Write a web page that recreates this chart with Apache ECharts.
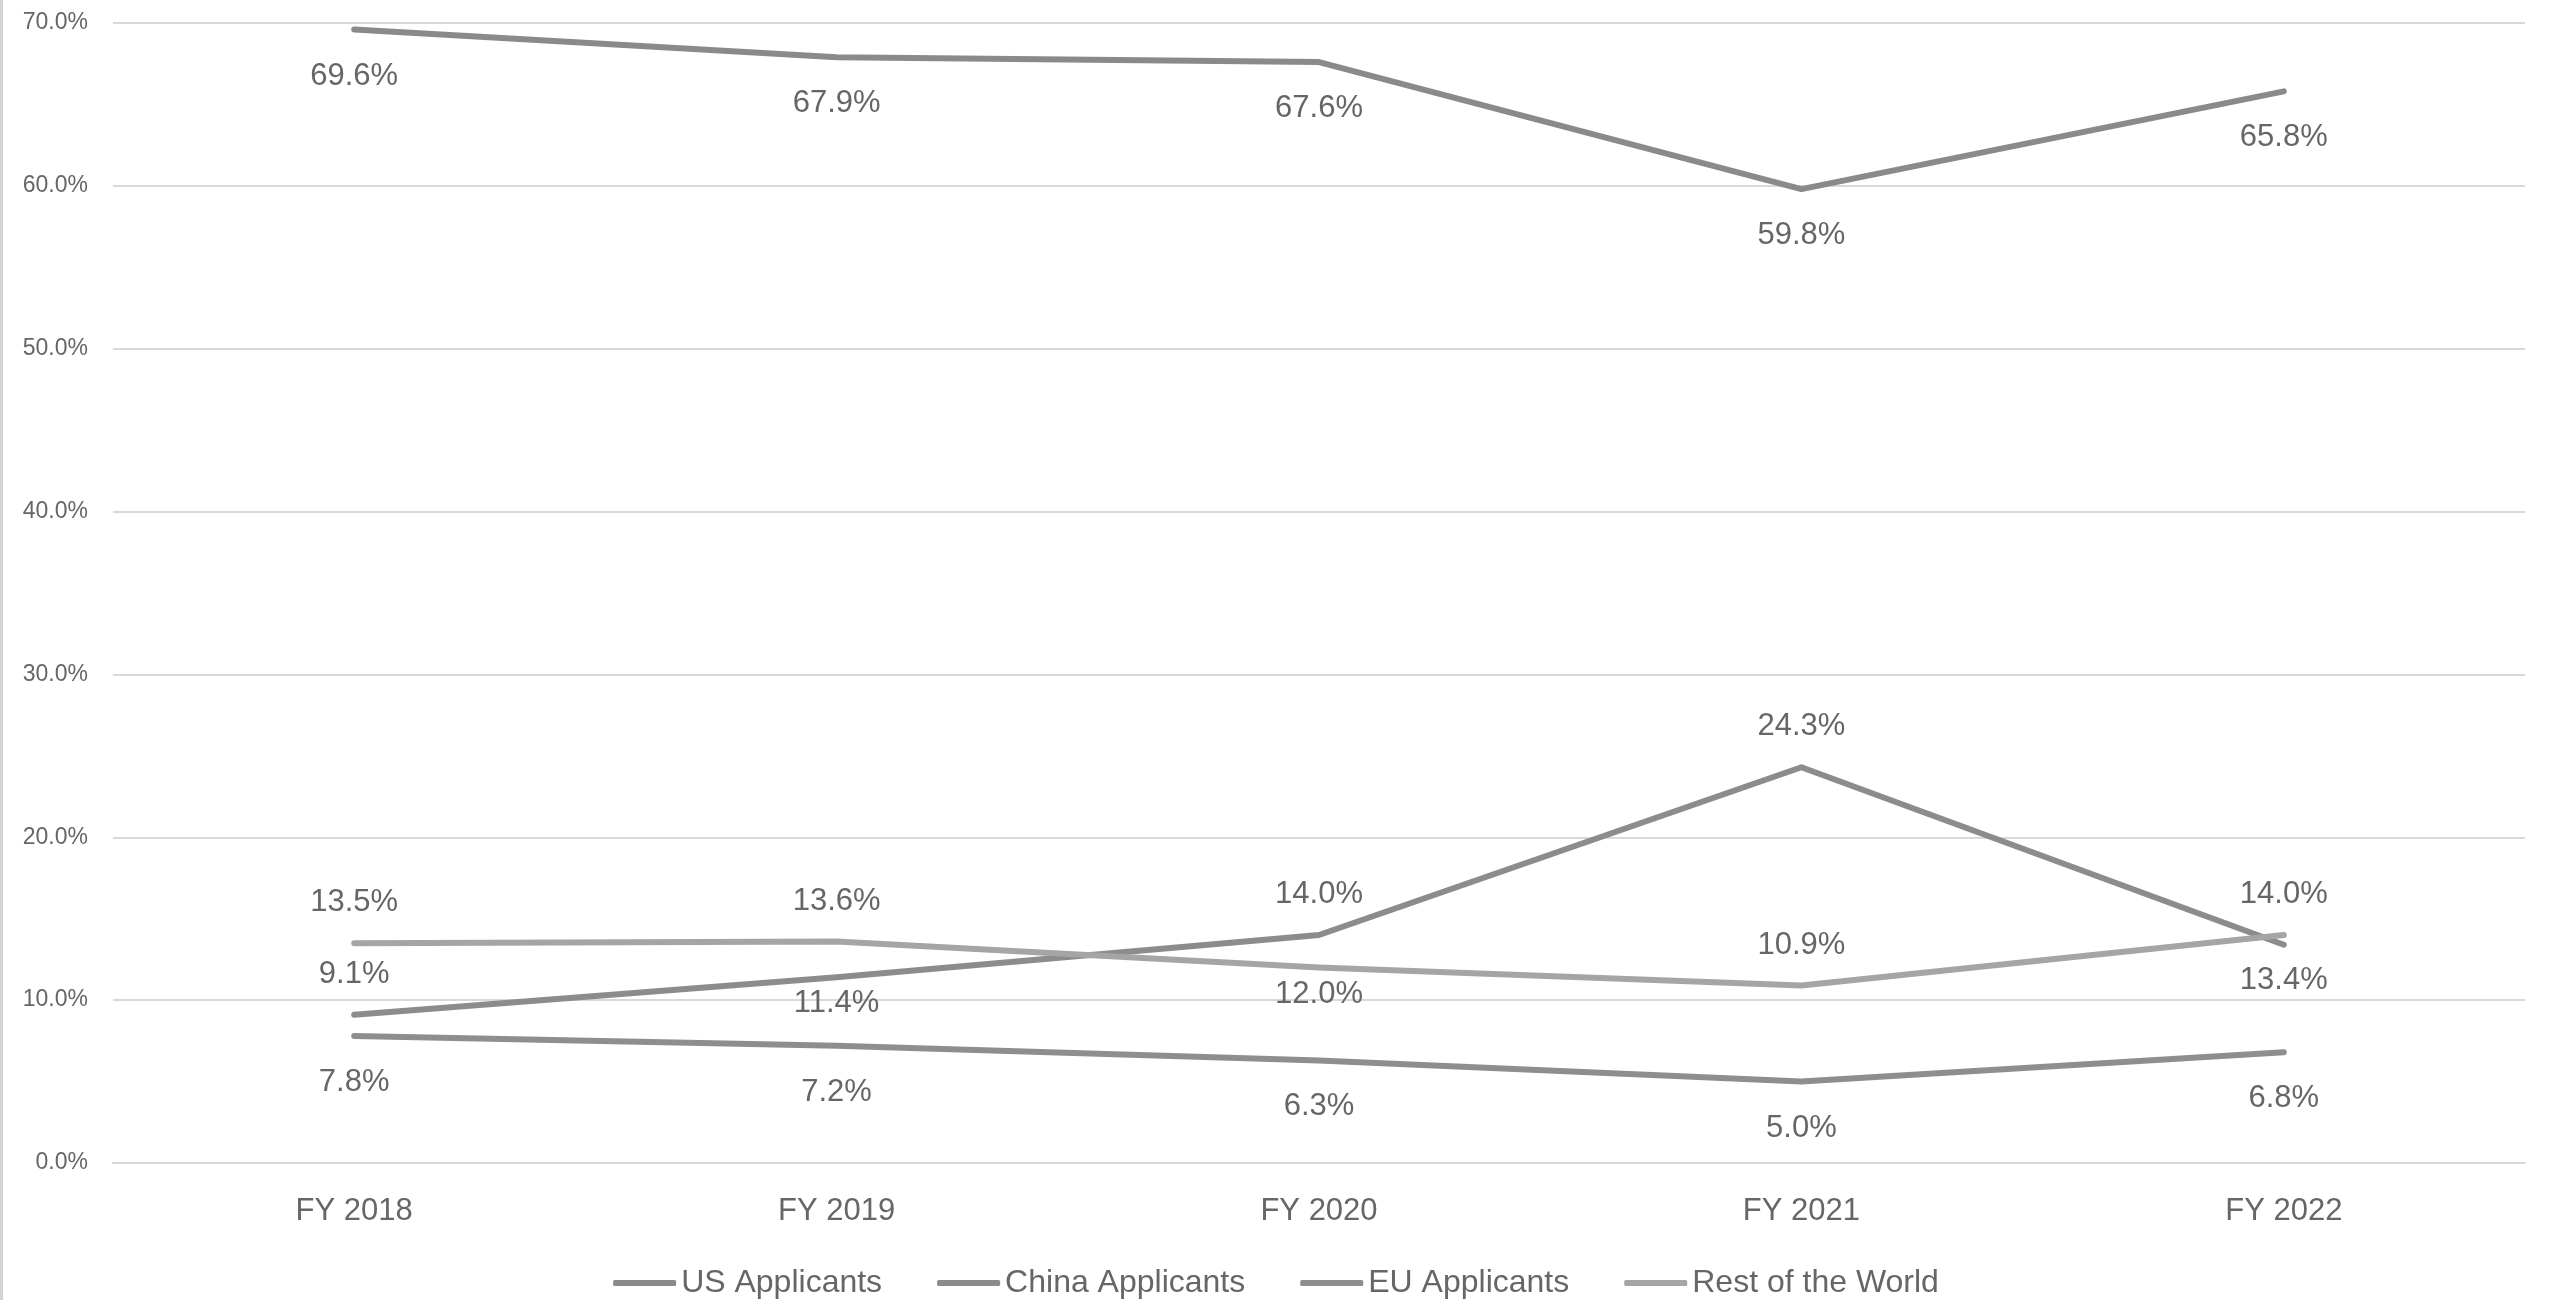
<!DOCTYPE html>
<html>
<head>
<meta charset="utf-8">
<script src="https://cdn.jsdelivr.net/npm/echarts@6/dist/echarts.min.js"></script>
<style>
  html, body { margin: 0; padding: 0; background: #fff; }
  #applicantShare { width: 2552px; height: 1300px; }
  #leftEdge { position: absolute; left: 0; top: 0; width: 3px; height: 1300px; background: #d4d4d4; }
</style>
</head>
<body>
<div id="applicantShare"></div>
<div id="leftEdge"></div>
<script>
var years = ['FY 2018', 'FY 2019', 'FY 2020', 'FY 2021', 'FY 2022'];
var usData = [69.6, 67.9, 67.6, 59.8, 65.8];
var chinaData = [9.1, 11.4, 14.0, 24.3, 13.4];
var euData = [7.8, 7.2, 6.3, 5.0, 6.8];
var restData = [13.5, 13.6, 12.0, 10.9, 14.0];
var yTicks = [0, 10, 20, 30, 40, 50, 60, 70];

// where each point's label sits (above/below the line)
var chinaSide = ['top', 'bottom', 'top', 'top', 'bottom'];
var chinaGap = [25, 11, 25, 25, 20];
var restSide = ['top', 'top', 'bottom', 'top', 'top'];
var restGap = [25, 25, 11, 25, 25];

var FontFamily = "'Liberation Sans', Arial, sans-serif";
var FontColor = '#666666';

function withLabels(values, sides, gaps) {
    var out = [];
    for (var i = 0; i < values.length; i++) {
        out.push({
            value: values[i],
            label: { position: sides[i], distance: gaps[i] }
        });
    }
    return out;
}

function lineSeries(name, data, color, side, gap) {
    return {
        name: name,
        type: 'line',
        data: data,
        showSymbol: true,
        showAllSymbol: true,
        symbol: 'circle',
        symbolSize: 0.01,
        silent: true,
        lineStyle: { color: color, width: 6, cap: 'round', join: 'round' },
        itemStyle: { color: color },
        label: {
            show: true,
            position: side,
            distance: gap,
            opacity: 1,
            color: FontColor,
            fontFamily: FontFamily,
            fontSize: 31,
            formatter: function (p) { return p.value.toFixed(1) + '%'; }
        }
    };
}

option = {
    animation: false,
    backgroundColor: '#ffffff',
    grid: { left: 113, right: 27, top: 23, bottom: 137 },
    legend: {
        data: ['US Applicants', 'China Applicants', 'EU Applicants', 'Rest of the World'],
        top: 1262,
        left: 'center',
        icon: 'roundRect',
        itemWidth: 63,
        itemHeight: 6,
        itemGap: 55,
        textStyle: { color: FontColor, fontFamily: FontFamily, fontSize: 32 }
    },
    xAxis: [{
        type: 'category',
        data: years,
        boundaryGap: true,
        axisTick: { show: false },
        axisLine: { show: true, lineStyle: { color: '#d9d9d9', width: 2 } },
        axisLabel: { color: FontColor, fontFamily: FontFamily, fontSize: 31, margin: 33 }
    }],
    yAxis: [{
        type: 'value',
        min: yTicks[0],
        max: yTicks[yTicks.length - 1],
        interval: 10,
        axisLine: { show: false },
        axisTick: { show: false },
        splitLine: { lineStyle: { color: '#d9d9d9', width: 2 } },
        axisLabel: {
            color: FontColor,
            fontFamily: FontFamily,
            fontSize: 23,
            margin: 25,
            formatter: function (v) { return v.toFixed(1) + '%'; }
        }
    }],
    series: [
        lineSeries('US Applicants', usData, '#8a8a8a', 'bottom', 31),
        lineSeries('China Applicants', withLabels(chinaData, chinaSide, chinaGap), '#8c8c8c', 'top', 25),
        lineSeries('EU Applicants', euData, '#8e8e8e', 'bottom', 31),
        lineSeries('Rest of the World', withLabels(restData, restSide, restGap), '#a5a5a5', 'top', 25)
    ]
};
var chart = echarts.init(document.getElementById('applicantShare'));
chart.setOption(option);
</script>
</body>
</html>
